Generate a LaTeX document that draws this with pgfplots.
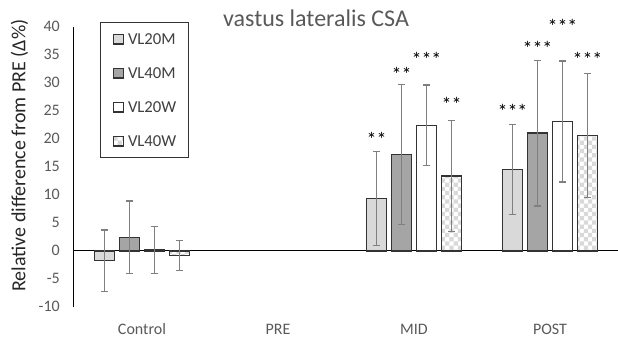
\documentclass[border=0pt]{standalone}
\usepackage{pgfplots}
\usepackage{pgfplotstable}
\pgfplotsset{compat=1.18}
\usepackage{fontspec}
\setmainfont{Carlito}
\usetikzlibrary{patterns}
\definecolor{txt}{HTML}{595959}
\definecolor{lg}{HTML}{D9D9D9}
\definecolor{dg}{HTML}{A5A5A5}
\definecolor{bord}{HTML}{333333}
\definecolor{errc}{HTML}{7F7F7F}
\pgfdeclarepatternformonly{checker}{\pgfqpoint{-1pt}{-1pt}}{\pgfqpoint{9.4bp}{9.4bp}}{\pgfqpoint{8.4bp}{8.4bp}}{%
 \pgfpathrectangle{\pgfqpoint{0bp}{0bp}}{\pgfqpoint{4.2bp}{4.2bp}}%
 \pgfpathrectangle{\pgfqpoint{4.2bp}{4.2bp}}{\pgfqpoint{4.2bp}{4.2bp}}%
 \pgfusepath{fill}}

\pgfplotstableread{
x y e
0 -1.75 5.45
2 9.3 8.4
3 14.5 8.0
}\VLtwentyM
\pgfplotstableread{
x y e
0 2.4 6.5
2 17.2 12.5
3 21.0 13.0
}\VLfortyM
\pgfplotstableread{
x y e
0 0.15 4.2
2 22.4 7.2
3 23.1 10.8
}\VLtwentyW
\pgfplotstableread{
x y e
0 -0.8 2.7
2 13.4 9.9
3 20.6 11.1
}\VLfortyW

\newcommand{\stars}[4]{\node[font=\fontsize{20bp}{20bp}\selectfont, anchor=base, inner sep=0pt, xshift=#2, yshift=-9.75bp] at (axis cs:#1,#3) {#4};}

\begin{document}
\begin{tikzpicture}
\begin{axis}[
  name=ax,
  scale only axis, width=544bp, height=280bp,
  xmin=-0.5, xmax=3.5, ymin=-10, ymax=40,
  ytick={-10,-5,...,40},
  xtick={0,1,2,3}, xticklabels={Control,PRE,MID,POST},
  axis y line*=left, axis x line*=bottom,
  x axis line style={draw=none},
  y axis line style={line width=1bp, black},
  major tick length=0pt,
  extra y ticks={0}, extra y tick labels={},
  extra y tick style={grid=major, major grid style={line width=1bp, black}},
  /pgf/number format/assume math mode=true,
  ticklabel style={font=\fontsize{16bp}{18bp}\selectfont, text=txt},
  yticklabel style={anchor=east, inner sep=0pt, xshift=-14bp},
  xticklabel style={anchor=base, inner sep=0pt, yshift=-28bp},
  ylabel={Relative difference from PRE (Δ\%)},
  ylabel style={at={(axis description cs:-0.1002,0.54)}, anchor=center, font=\fontsize{20bp}{22bp}\selectfont, text=black!85},
  title={vastus lateralis CSA},
  every axis title shift=0pt,
  title style={at={(axis description cs:0.4449,1)}, anchor=base, inner sep=0pt, yshift=0pt, font=\fontsize{24bp}{26bp}\selectfont, text=txt},
  ybar=5bp, bar width=20bp,
  clip=false,
  legend image code/.code={\draw[#1] (0bp,-4.75bp) rectangle (10bp,4.75bp);},
  legend cell align=left,
  legend style={at={(axis description cs:0.0478,1.0171)}, anchor=north west,
    draw=bord, line width=1bp, fill=white, inner xsep=12bp, inner ysep=11bp,
    row sep=23bp, column sep=4bp, font=\fontsize{16.7bp}{20bp}\selectfont, text=black!75,
    nodes={inner sep=0bp, text height=11bp, text depth=0bp}},
  every axis plot/.append style={
    error bars/y dir=both, error bars/y explicit,
    error bars/error mark=|,
    error bars/error bar style={line width=1.2bp, color=errc},
    error bars/error mark options={line width=1.2bp, color=errc, mark size=3.5bp}},
]
\addplot[fill=lg, draw=bord, line width=1.5bp] table[x=x, y=y, y error=e] {\VLtwentyM};
\addplot[fill=dg, draw=bord, line width=1.5bp] table[x=x, y=y, y error=e] {\VLfortyM};
\addplot[fill=white, draw=bord, line width=1.5bp] table[x=x, y=y, y error=e] {\VLtwentyW};
\addplot[pattern=checker, pattern color=lg, preaction={fill=white}, draw=bord, line width=1.5bp] table[x=x, y=y, y error=e] {\VLfortyW};
\legend{VL20M,VL40M,VL20W,VL40W}
\stars{2}{-37.5bp}{20.4}{**}
\stars{2}{-12.5bp}{32.0}{**}
\stars{2}{12.5bp}{34.7}{***}
\stars{2}{37.5bp}{26.6}{**}
\stars{3}{-37.5bp}{25.3}{***}
\stars{3}{-12.5bp}{36.6}{***}
\stars{3}{12.5bp}{40.5}{***}
\stars{3}{37.5bp}{34.7}{***}
\end{axis}
\pgfresetboundingbox
\useasboundingbox ([shift={(-74bp,-31.2bp)}]ax.south west) rectangle ([shift={(0bp,26.8bp)}]ax.north east);
\end{tikzpicture}
\end{document}
